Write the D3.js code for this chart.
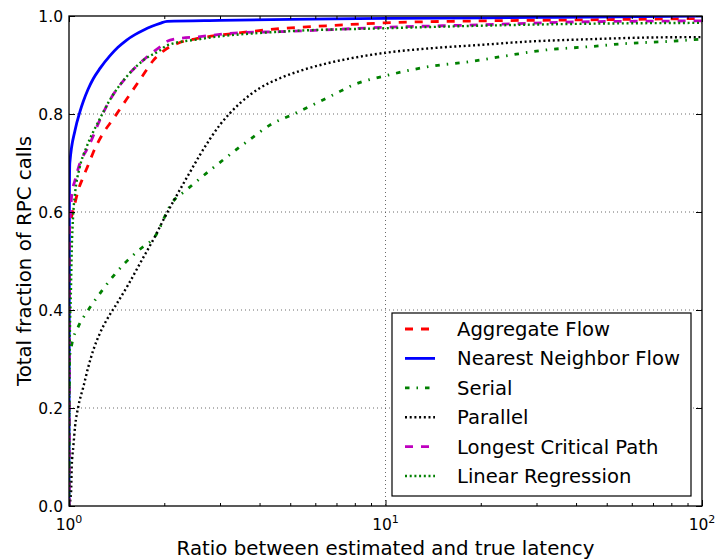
<!DOCTYPE html>
<html>
<head>
<meta charset="utf-8">
<script src="https://cdn.jsdelivr.net/npm/d3@7/dist/d3.min.js"></script>
<style>
    body { margin: 0; background: #fff; }
    svg { display: block; font-family: "DejaVu Sans", sans-serif; }
</style>
</head>
<body>
<div id="chart"></div>
<script>
// CDF of estimated / true latency: [ratio, fraction]
const aggregateFlow = [
    [1, 0], [1.003, 0.56], [1.015, 0.585], [1.032, 0.604], [1.07, 0.645], [1.11, 0.672],
    [1.15, 0.696], [1.19, 0.72], [1.28, 0.76], [1.38, 0.79], [1.52, 0.83], [1.7, 0.876],
    [1.85, 0.91], [2.0, 0.93], [2.2, 0.944], [2.6, 0.955], [3.5, 0.966], [4.6, 0.974],
    [6.5, 0.98], [10, 0.986], [20, 0.99], [41, 0.992], [100, 0.995]
];
const nearestNeighborFlow = [
    [1, 0], [1.003, 0.64], [1.006, 0.70], [1.045, 0.767], [1.083, 0.805], [1.11, 0.826],
    [1.148, 0.85], [1.193, 0.872], [1.253, 0.893], [1.348, 0.919], [1.428, 0.936],
    [1.521, 0.951], [1.616, 0.962], [1.717, 0.971], [1.829, 0.979], [1.94, 0.985],
    [2.04, 0.989], [3, 0.991], [5, 0.993], [10, 0.995], [30, 0.997], [100, 1.0]
];
const serial = [
    [1, 0], [1.004, 0.30], [1.02, 0.329], [1.07, 0.366], [1.151, 0.40], [1.253, 0.434],
    [1.364, 0.465], [1.502, 0.496], [1.676, 0.524], [1.869, 0.55], [2.11, 0.618],
    [2.35, 0.645], [2.93, 0.696], [3.64, 0.743], [4.41, 0.781], [5.05, 0.798],
    [6.83, 0.839], [7.89, 0.859], [10.3, 0.88], [13.8, 0.897], [18.5, 0.907],
    [24.7, 0.92], [32.4, 0.931], [43.3, 0.937], [58, 0.944], [77.5, 0.948], [100, 0.953]
];
const parallel = [
    [1, 0], [1.015, 0.027], [1.02, 0.08], [1.032, 0.121], [1.045, 0.162], [1.07, 0.203],
    [1.11, 0.243], [1.151, 0.284], [1.193, 0.318], [1.253, 0.353], [1.316, 0.38],
    [1.40, 0.408], [1.54, 0.452], [1.676, 0.495], [1.869, 0.55], [2.01, 0.59],
    [2.19, 0.634], [2.38, 0.675], [2.59, 0.716], [3.0, 0.778], [3.47, 0.822],
    [4.01, 0.853], [4.64, 0.873], [5.37, 0.888], [6.5, 0.903], [7.54, 0.912],
    [10, 0.925], [13.8, 0.934], [19.9, 0.941], [28.6, 0.948], [41.2, 0.952],
    [67, 0.956], [100, 0.957]
];
const longestCriticalPath = [
    [1, 0], [1.003, 0.57], [1.012, 0.60], [1.02, 0.635], [1.045, 0.665], [1.083, 0.70],
    [1.137, 0.727], [1.165, 0.74], [1.238, 0.781], [1.348, 0.829], [1.521, 0.876],
    [1.717, 0.91], [1.94, 0.937], [2.085, 0.951], [2.6, 0.958], [3.47, 0.966],
    [4.64, 0.968], [10, 0.977], [19.9, 0.982], [41, 0.988], [100, 0.990]
];
const linearRegression = [
    [1, 0], [1.004, 0.30], [1.015, 0.45], [1.02, 0.52], [1.03, 0.59], [1.045, 0.638],
    [1.08, 0.69], [1.14, 0.735], [1.24, 0.785], [1.35, 0.83], [1.52, 0.876],
    [1.72, 0.91], [1.94, 0.93], [2.04, 0.94], [2.6, 0.953], [4.64, 0.968], [10, 0.975],
    [41, 0.984], [100, 0.986]
];

const seriesNames = ['Aggregate Flow', 'Nearest Neighbor Flow', 'Serial', 'Parallel',
    'Longest Critical Path', 'Linear Regression'];
const seriesData = [aggregateFlow, nearestNeighborFlow, serial, parallel,
    longestCriticalPath, linearRegression];

const xTickValues = [1, 10, 100];
const xTickExponents = ['0', '1', '2'];
const yTickValues = [0, 0.2, 0.4, 0.6, 0.8, 1.0];

const xLabel = 'Ratio between estimated and true latency';
const yLabel = 'Total fraction of RPC calls';

// matplotlib style line looks
const styles = [
    { color: '#ff0000', dash: '8,8', width: 2.8 },
    { color: '#0000ff', dash: null, width: 2.8 },
    { color: '#008000', dash: '4.5,7,1.5,7', width: 2.8 },
    { color: '#000000', dash: '2,2.7', width: 2.4 },
    { color: '#bf00bf', dash: '8,8', width: 2.8 },
    { color: '#008000', dash: '2,2.7', width: 2.4 }
];

const width = 716, height = 560;
const margin = { top: 16, right: 14, bottom: 54, left: 69 };
const innerW = width - margin.left - margin.right;
const innerH = height - margin.top - margin.bottom;

const svg = d3.select('#chart').append('svg')
    .attr('width', width)
    .attr('height', height);

svg.append('defs').append('clipPath')
    .attr('id', 'plot-clip')
    .append('rect')
    .attr('width', innerW)
    .attr('height', innerH);

const g = svg.append('g')
    .attr('transform', `translate(${margin.left},${margin.top})`);

const x = d3.scaleLog().domain([1, 100]).range([0, innerW]);
const y = d3.scaleLinear().domain([0, 1]).range([innerH, 0]);

// curves
const line = d3.line()
    .x(d => x(d[0]))
    .y(d => y(d[1]))
    .curve(d3.curveMonotoneX);

const curves = g.append('g').attr('clip-path', 'url(#plot-clip)');
seriesData.forEach((data, i) => {
    curves.append('path')
        .datum(data)
        .attr('fill', 'none')
        .attr('stroke', styles[i].color)
        .attr('stroke-width', styles[i].width)
        .attr('stroke-dasharray', styles[i].dash)
        .attr('d', line);
});

// grid (drawn above the lines, like the classic style)
const grid = g.append('g')
    .attr('stroke', '#444')
    .attr('stroke-width', 0.8)
    .attr('stroke-dasharray', '1,3');
grid.selectAll('.gy')
    .data(yTickValues.slice(1, -1))
    .enter().append('line')
    .attr('x1', 0).attr('x2', innerW)
    .attr('y1', d => y(d)).attr('y2', d => y(d));
grid.selectAll('.gx')
    .data(xTickValues.slice(1, -1))
    .enter().append('line')
    .attr('y1', 0).attr('y2', innerH)
    .attr('x1', d => x(d)).attr('x2', d => x(d));

// ticks point inward on all four sides
const minorTicks = x.ticks().filter(v => !xTickValues.includes(v));
const tickG = g.append('g').attr('stroke', '#000').attr('stroke-width', 1);
[
    { ax: d3.axisBottom(x).tickValues(xTickValues).tickSize(-6), t: `translate(0,${innerH})` },
    { ax: d3.axisTop(x).tickValues(xTickValues).tickSize(-6), t: 'translate(0,0)' },
    { ax: d3.axisBottom(x).tickValues(minorTicks).tickSize(-3), t: `translate(0,${innerH})` },
    { ax: d3.axisTop(x).tickValues(minorTicks).tickSize(-3), t: 'translate(0,0)' },
    { ax: d3.axisLeft(y).tickValues(yTickValues).tickSize(-6), t: 'translate(0,0)' },
    { ax: d3.axisRight(y).tickValues(yTickValues).tickSize(-6), t: `translate(${innerW},0)` }
].forEach(a => {
    const sel = tickG.append('g')
        .attr('transform', a.t)
        .call(a.ax.tickFormat(''));
    sel.select('.domain').remove();
    sel.selectAll('.tick line').attr('stroke', '#000');
});

// frame
g.append('rect')
    .attr('width', innerW)
    .attr('height', innerH)
    .attr('fill', 'none')
    .attr('stroke', '#000')
    .attr('stroke-width', 1.3);

// tick labels
g.selectAll('.ylab')
    .data(yTickValues)
    .enter().append('text')
    .attr('x', -6)
    .attr('y', d => y(d))
    .attr('dy', '0.36em')
    .attr('text-anchor', 'end')
    .attr('font-size', '15.5px')
    .text(d => d3.format('.1f')(d));

const xl = g.selectAll('.xlab')
    .data(xTickValues)
    .enter().append('text')
    .attr('x', d => x(d))
    .attr('y', innerH + 24)
    .attr('text-anchor', 'middle')
    .attr('font-size', '15.5px');
xl.append('tspan').text('10');
xl.append('tspan')
    .attr('dy', -7)
    .attr('font-size', '11px')
    .text((d, i) => xTickExponents[i]);

// axis titles
svg.append('text')
    .attr('x', margin.left + innerW / 2)
    .attr('y', height - 5)
    .attr('text-anchor', 'middle')
    .attr('font-size', '19.8px')
    .text(xLabel);

svg.append('text')
    .attr('transform', `translate(31,${margin.top + innerH / 2}) rotate(-90)`)
    .attr('text-anchor', 'middle')
    .attr('font-size', '19.8px')
    .text(yLabel);

// legend
const legend = svg.append('g').attr('transform', 'translate(392,313)');
legend.append('rect')
    .attr('width', 299)
    .attr('height', 183)
    .attr('fill', '#fff')
    .attr('stroke', '#000')
    .attr('stroke-width', 1.2);

seriesNames.forEach((name, i) => {
    const row = legend.append('g').attr('transform', `translate(0,${16 + i * 29.4})`);
    row.append('line')
        .attr('x1', 13).attr('x2', 43)
        .attr('stroke', styles[i].color)
        .attr('stroke-width', styles[i].width)
        .attr('stroke-dasharray', styles[i].dash);
    row.append('text')
        .attr('x', 65)
        .attr('dy', '0.36em')
        .attr('font-size', '19.6px')
        .text(name);
});
</script>
</body>
</html>
